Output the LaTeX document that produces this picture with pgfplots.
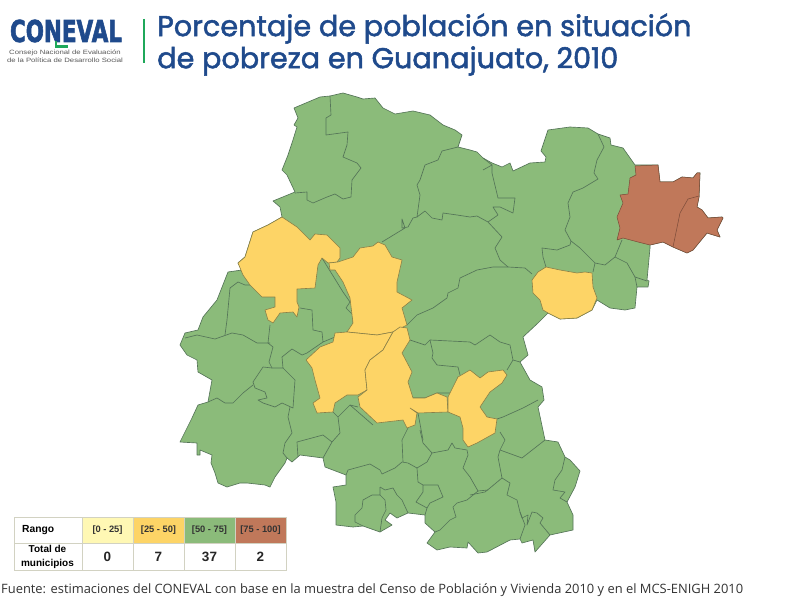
\documentclass[border=0pt]{standalone}
\usepackage{pgfplots}
\pgfplotsset{compat=1.18}
\usepackage{fontspec}
\setmainfont{Liberation Sans}
\newfontfamily\titlef{Poppins}[FakeBold=1.7]
\newfontfamily\footf{Open Sans}
\newfontfamily\logof{DejaVu Sans}[FakeBold=2.5]
\definecolor{titleblue}{HTML}{1F4A8C}
\definecolor{logogreen}{HTML}{1FA85A}
\definecolor{cgreen}{HTML}{8BBB7A}
\definecolor{cyellow}{HTML}{FDD466}
\definecolor{cred}{HTML}{C0785A}
\definecolor{cpale}{HTML}{FFF8B4}
\definecolor{bd}{HTML}{557558}
\definecolor{ybd}{HTML}{8A8048}
\definecolor{rbd}{HTML}{7A4A38}
\definecolor{cell}{HTML}{D2D2C2}
\pgfplotsset{
  mun/.style={draw=bd, line width=0.65pt, line join=round, no markers},
  yel/.style={draw=ybd, fill=cyellow, line width=0.6pt, line join=round, no markers},
  red/.style={draw=rbd, fill=cred, line width=0.5pt, line join=round, no markers},
}
\begin{document}
\begin{tikzpicture}
\begin{axis}[
  width=801pt, height=604pt, scale only axis,
  xmin=0, xmax=801, ymin=0, ymax=604, y dir=reverse,
  hide axis, clip=false]

\path[fill=white] (axis cs:0,0) rectangle (axis cs:801,604);

% state outline
\addplot[mun, fill=cgreen] coordinates {
(294,108)(320,97)(330,96)(343,93)(357,97)(363,99)(375,98)(383,108)(395,114)(413,111)(430,115)(443,125)(455,130)(462,135)(458,147)
(470,150)(477,152)(483,158)(492,163)(502,167)(510,163)(513,171)(530,163)(545,162)(546,157)(541,151)(548,130)(570,127)(588,128)(598,134)
(610,138)(611,145)(623,148)(635,165)(658,165)(660,182)(673,182)(682,177)(693,178)(697,173)(700,173)(699,197)(697,207)(702,210)(708,218)
(722,217)(723,218)(717,230)(720,237)(707,233)(693,250)(687,253)(673,247)(663,242)(650,245)(650,248)(647,280)(649,281)(648,287)(637,287)
(635,308)(625,310)(610,308)(597,300)(592,310)(577,318)(560,319)(548,313)(538,323)(523,337)(528,355)(520,362)(530,380)(542,387)(544,400)
(538,407)(545,440)(558,442)(565,457)(570,460)(580,471)(575,487)(567,502)(573,515)(573,530)(550,535)(535,552)(533,540)(522,543)(520,539)
(510,540)(487,552)(478,553)(468,542)(467,548)(450,547)(437,550)(427,543)(435,532)(425,523)(425,515)(408,513)(397,518)(390,513)(385,520)
(392,525)(380,532)(363,526)(353,527)(336,525)(336,502)(333,487)(346,485)(346,475)(325,467)(323,458)(300,455)(292,462)(287,458)(285,463)
(275,477)(270,487)(265,485)(247,483)(240,483)(227,487)(218,483)(215,473)(211,463)(212,455)(200,450)(200,455)(197,455)(197,443)(180,442)
(187,428)(192,418)(198,405)(208,402)(212,380)(198,372)(197,360)(187,355)(180,345)(185,333)(198,330)(203,317)(217,300)(228,272)(242,270)
(238,263)(245,257)(253,232)(268,225)(282,217)(280,207)(273,201)(295,192)(287,175)(282,170)(288,155)(292,143)(297,127)(294,125)(298,118)(294,108)
} --cycle;

% municipal borders
\addplot[mun] coordinates {(330,96)(331,115)(326,118)(326,135)(348,132)(347,145)(343,157)(357,163)(361,168)(352,180)(351,197)(343,199)(335,194)(327,197)(313,203)(307,200)(307,192)(295,193)};
\addplot[mun] coordinates {(458,147)(442,151)(438,160)(425,165)(420,180)(417,185)(420,195)(417,217)(413,218)(408,227)(402,228)(402,219)(405,228)(382,242)};
\addplot[mun] coordinates {(417,217)(425,211)(432,218)(442,220)(443,213)(457,215)(470,217)(477,216)(488,222)(498,215)(493,207)(500,207)(513,213)(515,198)(498,198)(492,173)(492,165)};
\addplot[mun] coordinates {(483,170)(492,165)(483,158)};
\addplot[mun] coordinates {(488,222)(502,237)(495,248)(500,260)(508,267)(525,268)(532,274)};
\addplot[mun] coordinates {(508,267)(493,267)(477,270)(460,278)(458,288)(448,293)(447,298)(433,308)(417,315)(407,325)};
\addplot[mun] coordinates {(598,134)(604,147)(597,160)(594,173)(598,179)(583,188)(573,192)(568,203)(570,217)(565,230)(571,241)(580,248)(595,263)(605,265)(615,257)(622,240)};
\addplot[mun] coordinates {(571,241)(570,245)(557,250)(542,248)(543,257)(546,267)};
\addplot[mun] coordinates {(595,263)(593,272)};
\addplot[mun] coordinates {(615,257)(627,263)(635,277)(647,281)};
\addplot[mun] coordinates {(635,277)(637,287)};
\addplot[mun] coordinates {(322,258)(343,292)(350,302)(346,308)(353,315)(353,323)};
\addplot[mun] coordinates {(347,332)(323,342)(322,332)(313,330)(312,310)(300,308)};
\addplot[mun] coordinates {(185,338)(197,335)(215,339)(232,333)(243,335)(257,343)(270,343)};
\addplot[mun] coordinates {(225,335)(227,320)(230,288)(238,282)(245,285)(250,285)};
\addplot[mun] coordinates {(270,325)(268,343)(273,347)(269,362)(272,368)(283,368)(282,357)(292,349)(302,355)(307,353)(323,342)};
\addplot[mun] coordinates {(283,368)(295,380)(293,408)(282,403)(275,407)(263,403)(258,400)(267,398)(265,392)(255,388)(253,382)(263,367)(272,368)};
\addplot[mun] coordinates {(253,385)(243,393)(233,403)(225,403)(217,398)(208,402)};
\addplot[mun] coordinates {(290,407)(288,417)(292,433)(285,443)(283,453)(287,458)};
\addplot[mun] coordinates {(298,457)(297,442)(323,435)(332,442)(323,458)};
\addplot[mun] coordinates {(332,442)(340,433)(338,417)(333,412)};
\addplot[mun] coordinates {(338,417)(343,412)(350,405)(358,407)};
\addplot[mun] coordinates {(350,405)(373,425)};
\addplot[mun] coordinates {(346,475)(348,470)(370,464)(380,470)(382,474)(395,468)(402,462)(408,463)(417,468)(427,462)(432,453)(423,443)(420,430)};
\addplot[mun] coordinates {(408,428)(402,440)(403,462)};
\addplot[mun] coordinates {(432,453)(448,450)(452,443)(455,448)(467,450)(468,455)(463,468)(470,477)(478,491)(488,490)};
\addplot[mun] coordinates {(417,468)(418,482)(423,485)(438,485)(443,497)(430,503)(427,508)(416,502)(423,492)(423,485)};
\addplot[mun] coordinates {(427,508)(425,515)};
\addplot[mun] coordinates {(478,491)(467,500)(457,503)(453,507)(456,517)(450,520)(440,530)(435,532)};
\addplot[mun] coordinates {(380,487)(380,495)(372,495)(363,500)(362,508)(355,515)(355,522)(363,526)};
\addplot[mun] coordinates {(380,495)(385,500)(386,510)(382,518)(380,532)};
\addplot[mun] coordinates {(380,487)(385,490)(393,488)(397,495)(402,500)(408,513)};
\addplot[mun] coordinates {(410,340)(425,345)(430,340)(470,342)(475,345)(490,335)(500,342)(510,345)(513,360)(520,362)};
\addplot[mun] coordinates {(430,340)(433,353)(432,358)(437,365)(458,367)(460,375)};
\addplot[mun] coordinates {(513,360)(507,370)};
\addplot[mun] coordinates {(458,377)(455,385)(453,393)(437,393)(425,398)(413,398)};
\addplot[mun] coordinates {(418,413)(423,440)};
\addplot[mun] coordinates {(500,432)(505,440)(500,450)(498,457)(502,478)(490,488)(485,492)(470,495)};
\addplot[mun] coordinates {(500,450)(522,458)(545,440)};
\addplot[mun] coordinates {(502,478)(510,483)(507,495)(517,500)(520,512)(522,518)(528,515)(527,525)(532,512)(537,513)(543,518)(540,523)(550,535)};
\addplot[mun] coordinates {(520,512)(525,525)(520,539)};
\addplot[mun] coordinates {(565,457)(562,470)(555,480)(553,490)(565,492)(560,498)(567,502)};
\addplot[mun] coordinates {(497,419)(503,417)(523,408)(538,400)};

% [25 - 50]
\addplot[yel] coordinates {(282,217)(297,227)(310,240)(315,234)(327,235)(340,248)(340,258)(337,262)(328,263)(322,258)(318,265)(315,288)(297,289)(297,302)(299,307)(297,317)(293,312)(280,313)(273,323)(268,320)(265,310)(275,307)(275,297)(262,297)(250,285)(243,275)(238,263)(245,257)(253,232)(268,225)} --cycle;
\addplot[yel] coordinates {(378,242)(385,245)(392,257)(402,260)(397,282)(397,292)(412,300)(402,308)(407,325)(393,332)(377,335)(347,332)(353,323)(350,298)(343,282)(335,270)(330,270)(329,263)(338,262)(353,257)(360,248)(373,246)} --cycle;
\addplot[yel] coordinates {(335,333)(347,332)(377,335)(393,332)(383,350)(370,360)(365,370)(367,390)(358,395)(347,395)(335,403)(333,412)(317,413)(313,403)(320,398)(315,380)(312,368)(306,360)(320,347)(333,342)} --cycle;
\addplot[yel] coordinates {(400,327)(407,328)(410,340)(402,353)(412,372)(408,382)(413,398)(425,398)(437,393)(447,397)(448,412)(418,413)(410,408)(417,413)(415,425)(407,428)(403,420)(377,423)(360,407)(358,397)(367,390)(365,370)(370,360)(383,350)(393,332)} --cycle;
\addplot[yel] coordinates {(448,397)(458,377)(470,370)(480,378)(488,372)(503,370)(507,375)(502,383)(490,392)(480,407)(487,417)(497,419)(495,433)(477,443)(468,447)(463,440)(463,428)(460,417)(448,412)} --cycle;
\addplot[yel] coordinates {(546,267)(560,270)(577,273)(585,272)(592,273)(593,287)(597,298)(592,310)(577,318)(560,319)(548,313)(543,310)(540,300)(533,293)(532,280)(538,272)} --cycle;

% [75 - 100]
\addplot[red] coordinates {(635,166)(658,165)(660,182)(673,182)(682,177)(693,178)(697,173)(700,173)(699,197)(697,207)(702,210)(708,218)(722,217)(723,218)(717,230)(720,237)(707,233)(693,250)(687,253)(673,247)(663,242)(650,245)(638,242)(623,238)(617,240)(620,228)(617,217)(623,203)(620,195)(628,194)(630,178)(636,175)} --cycle;
\addplot[red] coordinates {(699,196)(688,199)(680,213)(673,247)};

% legend table cells
\addplot[draw=none, fill=cpale] coordinates {(82,517)(133,517)(133,543)(82,543)} --cycle;
\addplot[draw=none, fill=cyellow] coordinates {(133,517)(184,517)(184,543)(133,543)} --cycle;
\addplot[draw=none, fill=cgreen] coordinates {(184,517)(235,517)(235,543)(184,543)} --cycle;
\addplot[draw=none, fill=cred] coordinates {(235,517)(286,517)(286,543)(235,543)} --cycle;
\addplot[draw=cell, line width=0.9pt] coordinates {(14,517)(286,517)(286,570)(14,570)(14,517)};
\addplot[draw=cell, line width=0.9pt] coordinates {(14,543)(286,543)};
\addplot[draw=cell, line width=0.9pt] coordinates {(82,517)(82,570)};
\addplot[draw=cell, line width=0.9pt] coordinates {(133,517)(133,570)};
\addplot[draw=cell, line width=0.9pt] coordinates {(184,517)(184,570)};
\addplot[draw=cell, line width=0.9pt] coordinates {(235,517)(235,570)};

\node[anchor=west, inner sep=0pt, font=\bfseries\fontsize{10.3}{11}\selectfont] at (axis cs:22,530) {Rango};
\node[align=center, inner sep=0pt, font=\bfseries\fontsize{10}{13.5}\selectfont] at (axis cs:47.5,557) {Total de\\municipios};
\foreach \x/\t in {107.5/{[0 - 25]},158.5/{[25 - 50]},209.5/{[50 - 75]},260.5/{[75 - 100]}}{
  \edef\temp{\noexpand\node[font=\noexpand\bfseries\noexpand\fontsize{9.3}{10}\noexpand\selectfont, text=black!80] at (axis cs:\x,530) {\t};}
  \temp
}
\foreach \x/\t in {107.5/0,158.5/7,209.5/37,260.5/2}{
  \edef\temp{\noexpand\node[font=\noexpand\bfseries\noexpand\fontsize{13.5}{14}\noexpand\selectfont, text=black!85] at (axis cs:\x,556.5) {\t};}
  \temp
}

% header
\node[anchor=west, inner sep=0pt, text=titleblue, font=\titlef\fontsize{28.7}{30}\selectfont] at (axis cs:157,28.5) {Porcentaje de población en situación};
\node[anchor=west, inner sep=0pt, text=titleblue, font=\titlef\fontsize{28.7}{30}\selectfont] at (axis cs:157,61) {de pobreza en Guanajuato, 2010};
\addplot[draw=logogreen, line width=2.4pt] coordinates {(144,19)(144,63)};

% logo
\node[text=titleblue, font=\logof\bfseries\fontsize{30}{32}\selectfont, inner sep=0pt, xscale=0.715] at (axis cs:66,31) {CONEVAL};
\addplot[draw=logogreen, line width=2.6pt] coordinates {(56,41)(56,46.5)(68,46.5)};
\node[text=black!65, font=\fontsize{6.2}{7.6}\selectfont, align=center, inner sep=0pt, xscale=1.25] at (axis cs:65,56) {Consejo Nacional de Evaluación\\de la Política de Desarrollo Social};

% source
\node[anchor=west, inner sep=0pt, text=black!80, font=\footf\fontsize{12.9}{14}\selectfont] at (axis cs:1,590) {Fuente: estimaciones del CONEVAL con base en la muestra del Censo de Población y Vivienda 2010 y en el MCS-ENIGH 2010};
\end{axis}
\end{tikzpicture}
\end{document}
